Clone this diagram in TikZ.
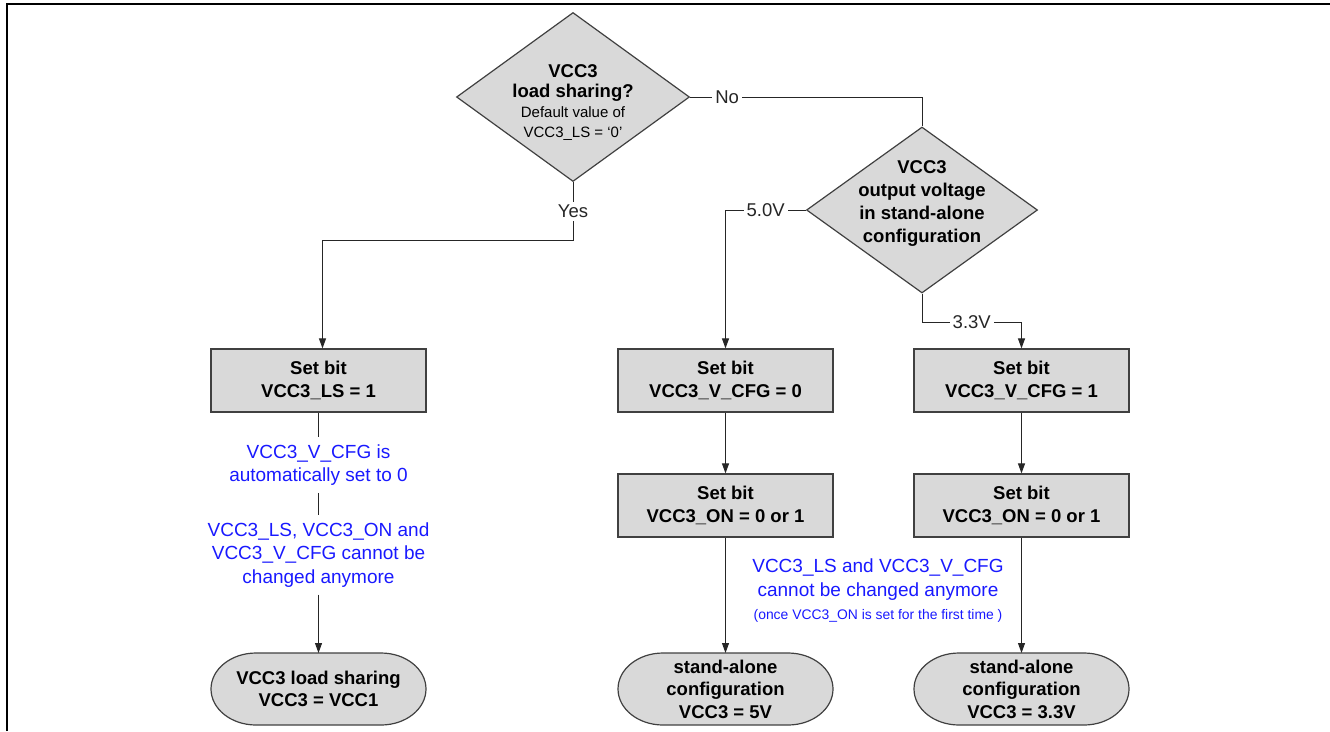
\documentclass[tikz,border=0pt]{standalone}
\usepackage{fontspec}
\setmainfont{Liberation Sans}
\usepackage{xcolor}
\usepackage{tikz}
\usetikzlibrary{shapes.geometric,arrows.meta,backgrounds}

\definecolor{kasten}{RGB}{217,217,217}
\definecolor{rand}{RGB}{64,64,64}
\definecolor{hinweis}{RGB}{25,25,255}

\newcommand{\gross}{\fontsize{18.5}{22.5}\selectfont}
\newcommand{\klein}{\fontsize{15}{20}\selectfont}
\newcommand{\mini}{\fontsize{13.9}{23.5}\selectfont}

\begin{document}
\begin{tikzpicture}[x=1pt, y=-1pt,
        decision/.style = {diamond, draw=rand, fill=kasten, line width=1.2pt, inner sep=0pt},
        bitbox/.style = {rectangle, draw=rand, fill=kasten, line width=1.2pt,
            minimum width=215pt, minimum height=63pt, align=center, font=\bfseries\gross},
        endbox/.style = {rectangle, minimum width=215pt, minimum height=72pt, inner sep=0pt,
            outer sep=0pt, align=center, font=\bfseries\gross},
        note/.style = {align=center, text=hinweis, font=\fontsize{19}{23.5}\selectfont, inner sep=7pt},
        lbl/.style = {fill=white, font=\gross, inner sep=3pt},
        flow/.style = {line width=1pt, black!85},
        >={Triangle[length=10pt, width=7pt]}]
    \useasboundingbox (0,0) rectangle (1330,731);
    \draw [line width=1.4pt] (7,731) -- (7,4) -- (1330,4);   %Rahmen

    % Entscheidungen
    \node [decision, minimum width=233pt, minimum height=169pt] (ls) at (573,97) {};
    \node [align=center, font=\bfseries\fontsize{18.5}{20}\selectfont, inner sep=0pt] (lsText) at (573,103)
        {VCC3\\load sharing?\\{\mdseries\klein Default value of}\\{\mdseries\klein VCC3\_LS = `0'}};
    \node [decision, minimum width=231pt, minimum height=166pt] (vo) at (922,210) {};
    \node [align=center, font=\bfseries\fontsize{18.5}{22.7}\selectfont, inner sep=0pt] (voText) at (922,203.5)
        {VCC3\\output voltage\\in stand-alone\\configuration};

    % Kaesten
    \node [bitbox] (setLS) at (318.5,380.5) {Set bit\\VCC3\_LS = 1};
    \node [bitbox] (setV0) at (725.5,380.5) {Set bit\\VCC3\_V\_CFG = 0};
    \node [bitbox] (setV1) at (1021.5,380.5) {Set bit\\VCC3\_V\_CFG = 1};
    \node [bitbox] (onV0) at (725.5,505.5) {Set bit\\VCC3\_ON = 0 or 1};
    \node [bitbox] (onV1) at (1021.5,505.5) {Set bit\\VCC3\_ON = 0 or 1};

    % Enden
    \node [endbox] (lsEnd) at (318.5,689) {VCC3 load sharing\\VCC3 = VCC1};
    \node [endbox] (endV0) at (725.5,689) {stand-alone\\configuration\\VCC3 = 5V};
    \node [endbox] (endV1) at (1021.5,689) {stand-alone\\configuration\\VCC3 = 3.3V};
    \begin{scope}[on background layer]
        \foreach \n in {lsEnd,endV0,endV1}
            \draw [rand, fill=kasten, line width=1.2pt] ([xshift=45pt]\n.north west) -- ([xshift=-45pt]\n.north east)
                arc [start angle=-90, end angle=90, x radius=45, y radius=36]
                -- ([xshift=45pt]\n.south west)
                arc [start angle=90, end angle=270, x radius=45, y radius=36] -- cycle;
    \end{scope}

    % Hinweise
    \node [note] (autoNote) at (318.5,465) {VCC3\_V\_CFG is\\automatically set to 0};
    \node [note] (lockNote) at (318.5,555) {VCC3\_LS, VCC3\_ON and\\VCC3\_V\_CFG cannot be\\changed anymore};
    \node [note] (onNote) at (878,591) {VCC3\_LS and VCC3\_V\_CFG\\cannot be changed anymore\\{\mini(once VCC3\_ON is set for the first time )}};

    \coordinate (yesKnick) at (573,240);
    \coordinate (noKnick) at (922,97);
    \coordinate (drKnick) at (922,322);

    % Verbindungen
    \draw [flow, ->] (ls.south) -- node [lbl] {Yes} (yesKnick) -| ([xshift=4pt]setLS.north);
    \draw [flow] (ls.east) -- node [lbl, pos=0.16] {No} (noKnick) -- (vo.north);
    \draw [flow, ->] (vo.west) -| node [lbl, pos=0.25] {5.0V} (setV0.north);
    \draw [flow, ->] (vo.south) -- (drKnick) -| node [lbl, pos=0.25] {3.3V} (setV1.north);
    \draw [flow, ->] (setV0) -- (onV0);
    \draw [flow, ->] (setV1) -- (onV1);
    \draw [flow, ->] (onV0) -- (endV0);
    \draw [flow, ->] (onV1) -- (endV1);
    \draw [flow] (setLS) -- (autoNote);
    \draw [flow] (autoNote) -- (lockNote);
    \draw [flow, ->] (lockNote) -- (lsEnd);
\end{tikzpicture}
\end{document}
